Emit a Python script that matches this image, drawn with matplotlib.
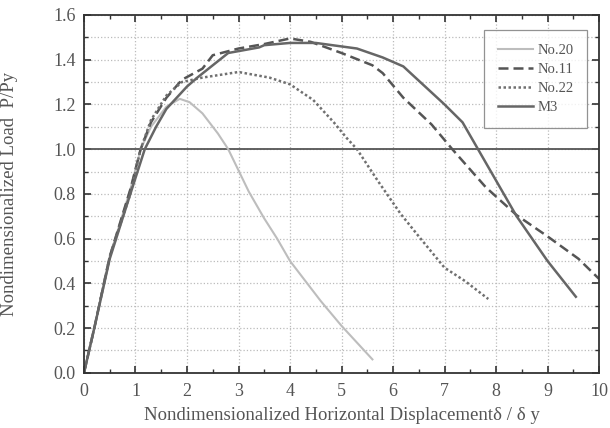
import numpy as np
import matplotlib.pyplot as plt
from matplotlib.ticker import MultipleLocator

plt.rcParams['font.family'] = ['Liberation Serif', 'DejaVu Serif']

# No.20
x20 = [0, 0.2, 0.5, 0.9, 1.1, 1.3, 1.6, 1.86, 2.05, 2.3, 2.6, 2.8, 3.2, 3.5, 3.75, 4.0, 4.2, 4.6, 5.0, 5.6]
y20 = [0, 0.2, 0.52, 0.82, 1.0, 1.1, 1.19, 1.225, 1.21, 1.16, 1.07, 1.0, 0.81, 0.69, 0.6, 0.5, 0.44, 0.32, 0.21, 0.06]

# No.11
x11 = [0, 0.2, 0.5, 0.9, 1.1, 1.3, 1.6, 1.9, 2.3, 2.5, 3.0, 3.5, 4.0, 4.4, 5.0, 5.6, 5.8, 6.2, 6.75, 7.15, 7.8, 8.4, 9.0, 9.6, 10.0]
y11 = [0, 0.2, 0.52, 0.82, 1.0, 1.12, 1.23, 1.31, 1.36, 1.42, 1.45, 1.47, 1.495, 1.48, 1.43, 1.375, 1.34, 1.23, 1.11, 1.0, 0.83, 0.705, 0.61, 0.51, 0.42]

# No.22
x22 = [0, 0.2, 0.5, 0.9, 1.1, 1.3, 1.6, 1.9, 2.3, 3.0, 3.6, 4.0, 4.45, 4.85, 5.1, 5.3, 5.7, 6.15, 6.5, 7.0, 7.4, 7.85]
y22 = [0, 0.2, 0.52, 0.8, 1.0, 1.13, 1.24, 1.3, 1.32, 1.345, 1.32, 1.29, 1.22, 1.12, 1.05, 1.0, 0.86, 0.71, 0.61, 0.47, 0.41, 0.33]

# M3
xm3 = [0, 0.2, 0.5, 0.9, 1.18, 1.4, 1.6, 2.0, 2.2, 2.5, 2.8, 3.4, 3.5, 4.0, 4.5, 5.3, 5.8, 6.2, 7.0, 7.35, 7.65, 8.4, 9.0, 9.55]
ym3 = [0, 0.2, 0.51, 0.8, 1.0, 1.1, 1.18, 1.28, 1.32, 1.375, 1.43, 1.455, 1.465, 1.475, 1.475, 1.45, 1.41, 1.37, 1.2, 1.12, 1.0, 0.7, 0.5, 0.34]

fig = plt.figure(figsize=(6.10, 4.28), dpi=100)
ax = fig.add_axes([0.1377, 0.129, 0.8443, 0.836])

ax.grid(True, which='major', axis='x', linestyle=':', color='#bbbbbb', linewidth=0.9)
ax.grid(True, which='both', axis='y', linestyle=':', color='#bbbbbb', linewidth=0.9)
ax.axhline(1.0, color='#555555', linewidth=1.3)

ax.plot(x20, y20, color='#bdbdbd', linewidth=1.5, label='No.20')
ax.plot(x11, y11, color='#555555', linewidth=1.8, linestyle=(0, (4, 2)), label='No.11')
ax.plot(x22, y22, color='#707070', linewidth=1.8, linestyle=(0, (1, 1)), label='No.22')
ax.plot(xm3, ym3, color='#666666', linewidth=1.8, label='M3')

ax.set_xlim(0, 10)
ax.set_ylim(0, 1.6)
ax.xaxis.set_major_locator(MultipleLocator(1))
ax.xaxis.set_minor_locator(MultipleLocator(0.5))
ax.yaxis.set_major_locator(MultipleLocator(0.2))
ax.yaxis.set_minor_locator(MultipleLocator(0.1))
ax.yaxis.set_major_formatter(plt.FuncFormatter(lambda v, p: f'{v:.1f}'))
ax.tick_params(which='both', direction='in', top=True, right=True, colors='#333333', labelcolor='#555555', labelsize=13)
ax.tick_params(which='major', length=5, width=1.2)
ax.tick_params(which='minor', length=3, width=1.0)
ax.tick_params(axis='y', which='major', pad=6)
ax.tick_params(axis='x', which='major', pad=7)
for s in ax.spines.values():
    s.set_color('#333333')
    s.set_linewidth(1.3)

ax.set_xlabel('Nondimensionalized Horizontal Displacement\u03b4 / \u03b4 y', fontsize=13.5, color='#555555')
ax.set_ylabel('Nondimensionalized Load  P/Py', fontsize=13.5, color='#555555')
ax.xaxis.set_label_coords(0.5, -0.096)
ax.yaxis.set_label_coords(-0.128, 0.5)

leg = ax.legend(loc='upper right', bbox_to_anchor=(0.977, 0.958), fontsize=10.5, frameon=True, fancybox=False,
                edgecolor='#777777', handlelength=2.4, handletextpad=0.3, labelspacing=0.4, borderpad=0.95,
                borderaxespad=0)
leg.get_frame().set_linewidth(0.9)
for t in leg.get_texts():
    t.set_color('#555555')

plt.savefig('out.png', dpi=100)
